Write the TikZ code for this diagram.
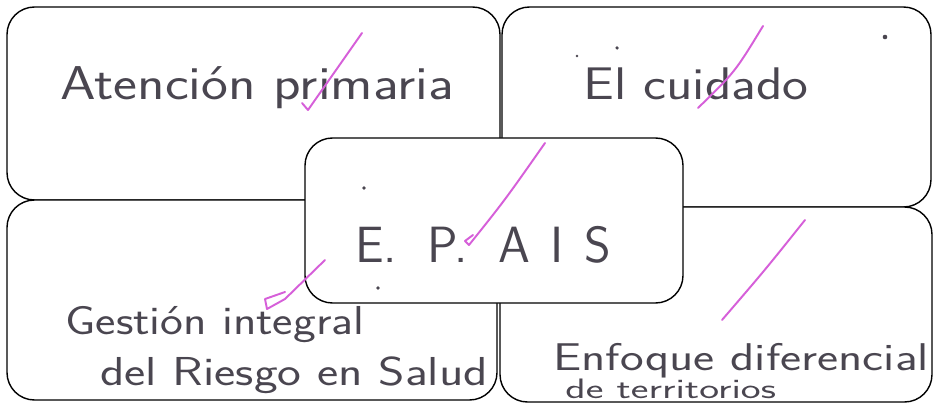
\documentclass[tikz,border=0pt]{standalone}
\usepackage{xcolor}
\usepackage{tikz}

\definecolor{ink}{HTML}{4A4650}
\definecolor{pen}{HTML}{D65FD9}
\newcommand{\handtext}[2]{\scalebox{#1}[1]{#2}}

\begin{document}
\begin{tikzpicture}[x=0.02cm, y=-0.02cm,
    card/.style={thick, fill=white, rounded corners=0.55cm},
    hand/.style={text=ink, anchor=base west, inner sep=0pt, font=\sffamily\fontsize{#1}{#1}\selectfont},
    hand/.default=24,
    tick/.style={pen, line width=1.1pt, line cap=round, line join=round}]
            \useasboundingbox (0,0) rectangle (933,405);

            % Top left card
            \draw[card] (7,7) rectangle (500,200);
            \node[hand=27] (atencion) at (60,100) {\handtext{1.2}{Atención primaria}};

            % Top right card
            \draw[card] (502,7) rectangle (931,207);
            \node[hand=26] (cuidado) at (583,100) {\handtext{1.2}{El cuidado}};

            % Bottom left card
            \draw[card] (7,200) rectangle (497,400);
            \node[hand=23] (gestion) at (65,335) {\handtext{1.2}{Gestión integral}};
            \node[hand=23] (riesgo) at (100,385) {\handtext{1.25}{del Riesgo en Salud}};

            % Bottom right card
            \draw[card] (500,207) rectangle (932,402);
            \node[hand=22] (enfoque) at (553,370) {\handtext{1.3}{Enfoque diferencial}};
            \node[hand=16] (territorio) at (565,398) {\handtext{1.5}{de territorios}};

            % Centre card
            \draw[card] (305,138) rectangle (683,303);
            \node[hand=29] (epais) at (355,262) {E.\hspace{0.6em}P.\hspace{0.6em}A\hspace{0.4em}I\hspace{0.4em}S};

            % Pen dots
            \fill[ink] (885,37) circle (1.3pt);
            \fill[ink] (617,48) circle (1pt);
            \fill[ink] (577,56) circle (0.8pt);
            \fill[ink] (364,188) circle (1pt);
            \fill[ink] (378,288) circle (1pt);

            % Check marks
            \draw[tick] (302,103) -- (308,110) -- (362,33);
            \draw[tick] (698,108) .. controls (735,72) .. (763,26);
            \draw[tick] (473,235) -- (465,241) -- (469,245) .. controls (505,200) .. (545,143);
            \draw[tick] (285,292) -- (265,299) -- (267,309) -- (285,299) -- (325,260);
            \draw[tick] (722,320) .. controls (765,270) .. (805,220);
        \end{tikzpicture}
\end{document}
